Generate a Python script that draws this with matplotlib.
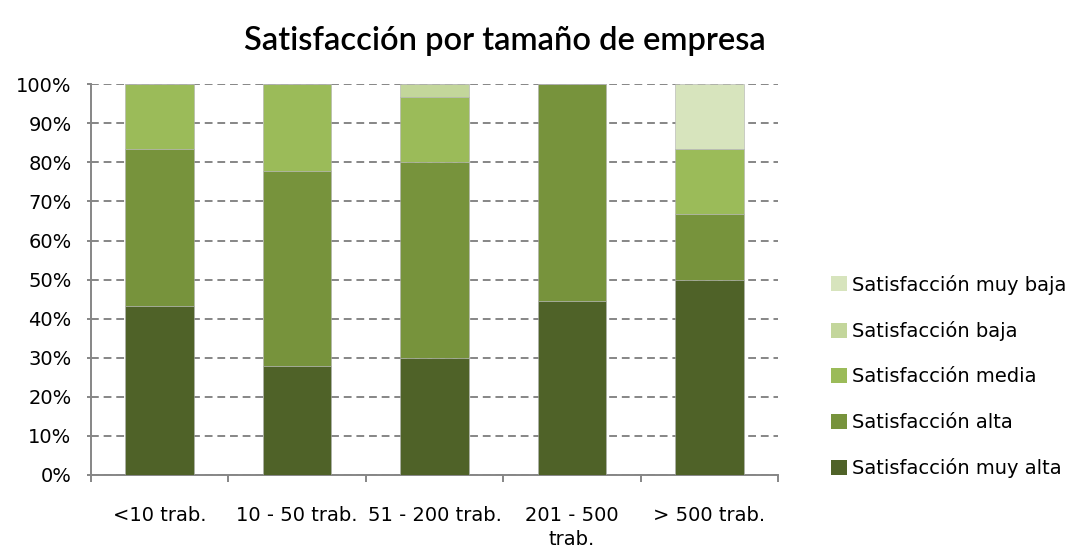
import matplotlib
matplotlib.use("Agg")
import matplotlib.pyplot as plt
import numpy as np
from matplotlib.patches import Patch

plt.rcParams['font.family'] = ['DejaVu Sans']

categories = ["<10 trab.", "10 - 50 trab.", "51 - 200 trab.", "201 - 500\ntrab.", "> 500 trab."]
series_names = ["Satisfacción muy alta", "Satisfacción alta", "Satisfacción media",
                "Satisfacción baja", "Satisfacción muy baja"]
muy_alta = [43.3, 27.8, 30.0, 44.4, 50.0]
alta = [40.0, 50.0, 50.0, 55.6, 16.7]
media = [16.7, 22.2, 16.7, 0.0, 16.7]
baja = [0.0, 0.0, 3.3, 0.0, 0.0]
muy_baja = [0.0, 0.0, 0.0, 0.0, 16.6]
colors = ["#4F6228", "#77933C", "#9BBB59", "#C3D69B", "#D7E4BD"]

fig = plt.figure(figsize=(10.76, 5.54), dpi=100)
ax = fig.add_axes([0.0846, 0.1426, 0.6384, 0.7054])

x = np.arange(len(categories))
bottom = np.zeros(len(categories))
for vals, name, c in zip([muy_alta, alta, media, baja, muy_baja], series_names, colors):
    v = np.array(vals)
    ax.bar(x, v, 0.5, bottom=bottom, color=c, edgecolor="#b0b0b0", linewidth=0.4, zorder=3, label=name)
    bottom += v

ax.set_xlim(-0.5, len(categories) - 0.5)
ax.set_ylim(0, 100)
ax.set_yticks(np.arange(0, 101, 10))
ax.set_yticklabels([f"{v}%" for v in range(0, 101, 10)], fontsize=14)
ax.yaxis.grid(True, linestyle=(0, (4, 2.5)), color="#868686", linewidth=1.4, zorder=0)
ax.set_xticks(x)
ax.set_xticklabels(categories, fontsize=14, linespacing=1.35)
ax.set_xticks(np.arange(-0.5, len(categories)), minor=True)
ax.tick_params(axis='x', which='major', length=0, pad=22)
ax.tick_params(axis='x', which='minor', length=5, color="#868686", width=1.4)
ax.tick_params(axis='y', length=3, color="#868686", width=1.4, pad=11)
for s in ["top", "right"]:
    ax.spines[s].set_visible(False)
for s in ["left", "bottom"]:
    ax.spines[s].set_color("#868686")
    ax.spines[s].set_linewidth(1.4)

fig.text(0.469, 0.926, "Satisfacción por tamaño de empresa", ha="center", va="center",
         fontsize=23.5, fontweight="semibold", family="Lato")

handles = [Patch(facecolor=c, edgecolor="none") for c in colors][::-1]
fig.legend(handles, series_names[::-1], loc="center left", bbox_to_anchor=(0.7723, 0.3204),
           frameon=False, fontsize=14, labelspacing=1.36, handlelength=0.8,
           handleheight=0.8, handletextpad=0.3, borderpad=0, borderaxespad=0)

fig.savefig("out.png", dpi=100)
